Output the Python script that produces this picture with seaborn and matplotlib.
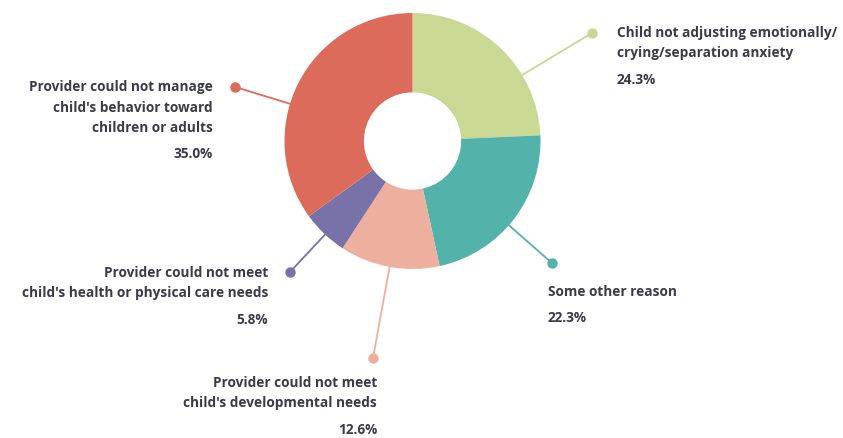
import numpy as np
import matplotlib
matplotlib.use("Agg")
import matplotlib.pyplot as plt
import seaborn as sns

# slices, clockwise from 12 o'clock
labels = [
    "Child not adjusting emotionally/\ncrying/separation anxiety",
    "Some other reason",
    "Provider could not meet\nchild's developmental needs",
    "Provider could not meet\nchild's health or physical care needs",
    "Provider could not manage\nchild's behavior toward\nchildren or adults",
]
shares = [24.3, 22.3, 12.6, 5.8, 35.0]
colors = ["#c9d893", "#53b3ab", "#edb09f", "#7872a8", "#dd6b5c"]

# label layout (pixel coords): dot, text anchor, alignment
dots = [(592, 33), (552, 263), (373, 358), (290, 272), (235, 87)]
text_xy = [(617, 33), (548, 292), (377, 383), (268, 273), (213, 87)]
aligns = ["left", "left", "right", "right", "right"]

sns.set_theme(style="white")
plt.rcParams["font.family"] = ["Open Sans", "DejaVu Sans"]
pal = sns.color_palette(colors)

fig = plt.figure(figsize=(8.43, 4.38), dpi=100)
ax = fig.add_axes([0, 0, 1, 1])

cx, cy, r = 412.5, 141, 128
ax.pie(shares, colors=pal, center=(cx, cy), radius=r, startangle=-90,
       counterclock=True, frame=True,
       wedgeprops=dict(width=r * 0.62, linewidth=0))

# leader lines: radial from the outer ring to the dot
for (dx, dy), c in zip(dots, pal):
    v = np.array([dx - cx, dy - cy])
    u = v / np.linalg.norm(v)
    sx, sy = cx + u[0] * r, cy + u[1] * r
    ax.plot([sx, dx], [sy, dy], color=c, lw=1.3, zorder=0)
    ax.plot(dx, dy, "o", color=c, ms=6.5, zorder=3)

txt_color = "#3a3a48"
for lab, val, (tx, ty), ha in zip(labels, shares, text_xy, aligns):
    n = lab.count("\n")
    for i, line in enumerate(lab.split("\n")):
        ax.text(tx, ty + i * 20.5, line, ha=ha, va="center", fontsize=9.8,
                fontweight="bold", color=txt_color)
    ax.text(tx, ty + n * 20.5 + 26, f"{val:.1f}%", ha=ha, va="center",
            fontsize=9.8, fontweight="bold", color=txt_color)

ax.set_xlim(0, 843)
ax.set_ylim(438, 0)
ax.set_aspect("equal")
ax.axis("off")

fig.savefig("out.png", dpi=100, facecolor="white")
